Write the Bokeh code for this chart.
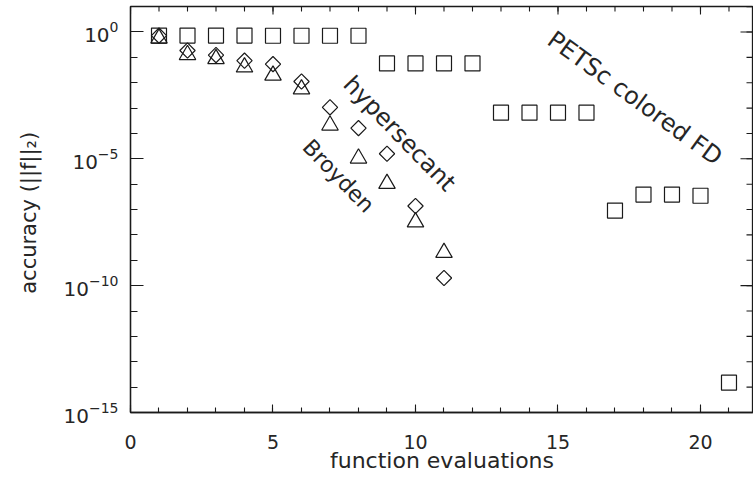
import math
from bokeh.plotting import figure
from bokeh.models import FixedTicker, Range1d, LogTickFormatter, ColumnDataSource
from bokeh.core.properties import value
from bokeh.embed import file_html
from bokeh.resources import INLINE

# ---- data ----
petsc_evals = [1, 2, 3, 4, 5, 6, 7, 8, 9, 10, 11, 12, 13, 14, 15, 16, 17, 18, 19, 20, 21]
petsc_acc = [0.72, 0.72, 0.72, 0.72, 0.71, 0.71, 0.71, 0.71,
             0.0575, 0.0575, 0.0575, 0.0575,
             6.6e-4, 6.6e-4, 6.6e-4, 6.6e-4,
             9.1e-8, 3.9e-7, 3.9e-7, 3.5e-7, 1.5e-14]

hyper_evals = [1, 2, 3, 4, 5, 6, 7, 8, 9, 10, 11]
hyper_acc = [0.72, 0.186, 0.123, 0.074, 0.054, 0.0112, 1.07e-3, 1.62e-4, 1.58e-5, 1.38e-7, 2.0e-10]

broyden_evals = [1, 2, 3, 4, 5, 6, 7, 8, 9, 10, 11]
broyden_acc = [0.56, 0.126, 0.087, 0.041, 0.0195, 5.6e-3, 2.1e-4, 1.05e-5, 1.05e-6, 3.2e-8, 2.0e-9]

x_major = [0, 5, 10, 15, 20]
x_minor = list(range(0, 23))
y_major = [1e-15, 1e-10, 1e-5, 1e0]
y_minor = [1e-15, 1e-14, 1e-13, 1e-12, 1e-11, 1e-10, 1e-9, 1e-8, 1e-7, 1e-6,
           1e-5, 1e-4, 1e-3, 1e-2, 1e-1, 1e0, 1e1]

labels = ["hypersecant", "Broyden", "PETSc colored FD"]
label_x = [9.44, 7.30, 17.70]
label_y = [9.8e-5, 2.1e-6, 2.45e-3]
label_deg = [-46, -46, -36]
label_size = ["24px", "22px", "24px"]

X_MIN, X_MAX = 0, 21.86
Y_MIN, Y_MAX = 1e-15, 10.1

FONT = "DejaVu Sans"
INK = "#1a1a1a"
TXT = "#262626"

p = figure(width=753, height=478, y_axis_type="log",
           x_range=Range1d(X_MIN, X_MAX), y_range=Range1d(Y_MIN, Y_MAX),
           output_backend="svg", toolbar_location=None,
           min_border_left=130, min_border_right=0, min_border_top=6, min_border_bottom=66)
p.grid.visible = False
p.outline_line_color = INK
p.outline_line_width = 1.3
p.background_fill_color = "white"

def style_axis(ax, major_in, minor_in):
    ax.axis_line_color = INK
    ax.axis_line_width = 1.3
    ax.major_tick_in = major_in
    ax.major_tick_out = 0
    ax.minor_tick_in = minor_in
    ax.minor_tick_out = 0
    ax.major_tick_line_color = INK
    ax.minor_tick_line_color = INK
    ax.major_tick_line_width = 1.1
    ax.minor_tick_line_width = 1.1
    ax.major_label_text_font = FONT
    ax.major_label_text_color = TXT
    ax.axis_label_text_font = FONT
    ax.axis_label_text_color = TXT
    ax.axis_label_text_font_style = "normal"

xt = FixedTicker(ticks=x_major, minor_ticks=x_minor)
yt = FixedTicker(ticks=y_major, minor_ticks=y_minor)

xa = p.xaxis[0]
xa.ticker = xt
style_axis(xa, 8, 5)
xa.major_label_text_font_size = "19px"
xa.major_label_standoff = 22
xa.axis_label = "function evaluations"
xa.axis_label_text_font_size = "22px"
xa.axis_label_standoff = -4

ya = p.yaxis[0]
ya.ticker = yt
ya.formatter = LogTickFormatter()
style_axis(ya, 13, 7)
ya.major_label_text_font_size = "20px"
ya.major_label_standoff = 12
ya.axis_label = "accuracy  (||f||\u2082)"
ya.axis_label_text_font_size = "21px"
ya.axis_label_standoff = 20

# mirrored inward ticks on the top and right frame edges (clipped to the frame)
p.scatter(x_major, [Y_MAX] * len(x_major), marker="dash", angle=math.pi / 2, size=16,
          line_color=INK, line_width=1.1)
p.scatter(x_minor, [Y_MAX] * len(x_minor), marker="dash", angle=math.pi / 2, size=10,
          line_color=INK, line_width=1.1)
p.scatter([X_MAX] * len(y_major), y_major, marker="dash", size=26,
          line_color=INK, line_width=1.1)
p.scatter([X_MAX] * len(y_minor), y_minor, marker="dash", size=14,
          line_color=INK, line_width=1.1)

p.scatter(petsc_evals, petsc_acc, marker="square", size=15, fill_color=None,
          line_color=INK, line_width=1.2)
p.scatter(hyper_evals, hyper_acc, marker="square", size=10.8, angle=math.pi / 4,
          fill_color=None, line_color=INK, line_width=1.2)
p.scatter(broyden_evals, broyden_acc, marker="triangle", size=16.5, fill_color=None,
          line_color=INK, line_width=1.2)

src = ColumnDataSource(dict(x=label_x, y=label_y, text=labels,
                            angle=[math.radians(a) for a in label_deg], size=label_size))
p.text(x="x", y="y", text="text", angle="angle", text_font_size="size", source=src,
       text_font=value(FONT), text_color=TXT,
       text_align="center", text_baseline="middle")

open("out.html", "w").write(file_html(p, INLINE))
